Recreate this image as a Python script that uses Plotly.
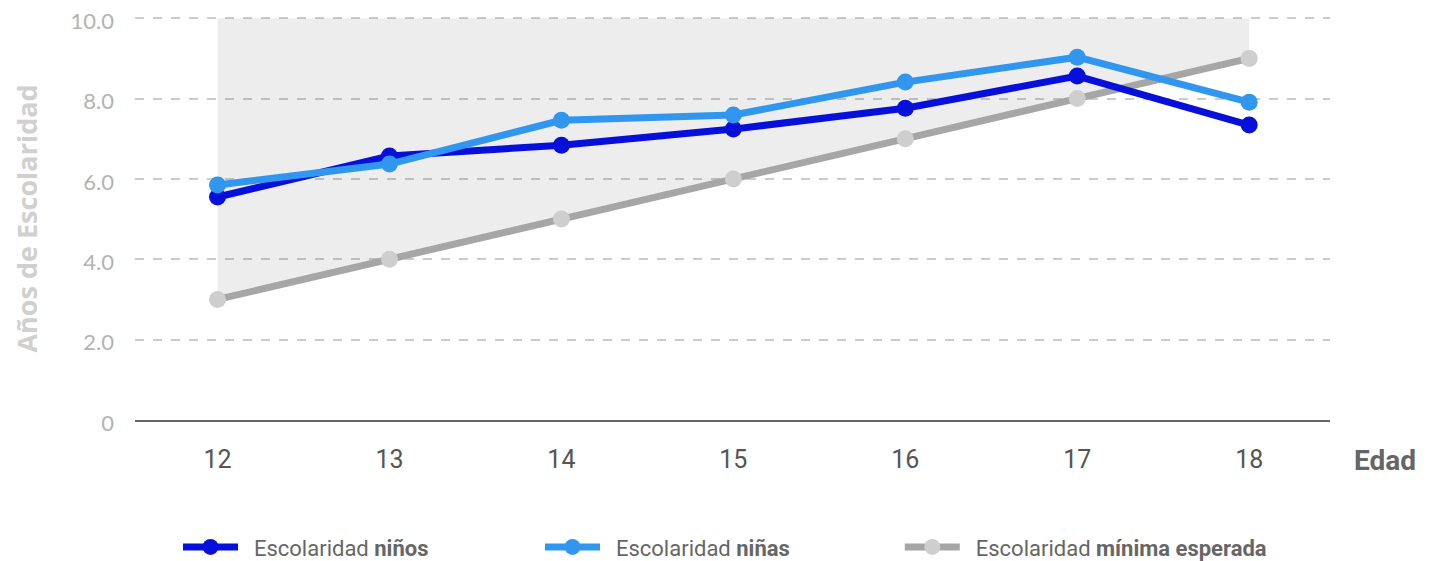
import plotly.graph_objects as go

edades = [12, 13, 14, 15, 16, 17, 18]
ninos = [5.55, 6.57, 6.84, 7.24, 7.76, 8.56, 7.34]
ninas = [5.85, 6.37, 7.46, 7.59, 8.41, 9.03, 7.91]
minima = [3, 4, 5, 6, 7, 8, 9]
techo = [10, 10, 10, 10, 10, 10, 10]
y_ticks = [0, 2, 4, 6, 8, 10]
y_labels = ["0", "2.0", "4.0", "6.0", "8.0", "10.0"]

fig = go.Figure()

# shaded band between minimum and top
fig.add_trace(go.Scatter(x=edades, y=techo, mode="lines", line=dict(width=0),
                         showlegend=False, hoverinfo="skip"))
fig.add_trace(go.Scatter(x=edades, y=minima, mode="lines", line=dict(width=0),
                         fill="tonexty", fillcolor="rgba(0,0,0,0.07)",
                         showlegend=False, hoverinfo="skip"))

sp = "&nbsp;&nbsp;"
fig.add_trace(go.Scatter(x=edades, y=minima, mode="lines+markers",
                         name=sp + "Escolaridad <b>mínima esperada</b>",
                         line=dict(color="#a6a6a6", width=7),
                         marker=dict(color="#cecece", size=17),
                         legend="legend2"))
fig.add_trace(go.Scatter(x=edades, y=ninos, mode="lines+markers",
                         name=sp + "Escolaridad <b>niños</b>",
                         line=dict(color="#0710da", width=7),
                         marker=dict(color="#0710da", size=17),
                         legendrank=1))
fig.add_trace(go.Scatter(x=edades, y=ninas, mode="lines+markers",
                         name=sp + "Escolaridad <b>niñas</b>",
                         line=dict(color="#3196ee", width=7),
                         marker=dict(color="#3196ee", size=17),
                         legendrank=2))

legend_font = dict(size=22, color="#666666", family="Roboto")

fig.update_layout(
    width=1437, height=561,
    margin=dict(l=127, r=115, t=9, b=149, autoexpand=False),
    paper_bgcolor="white", plot_bgcolor="white",
    font=dict(family="Roboto", color="#666666"),
    xaxis=dict(range=[11.52, 18.47], tickvals=edades,
               tickfont=dict(size=25, color="#555555", family="Roboto"),
               showgrid=False, zeroline=False, showline=True,
               linecolor="#666666", linewidth=2, ticks="",
               ticklabelstandoff=16, automargin=False),
    yaxis=dict(range=[0, 10.03], tickvals=y_ticks, ticktext=y_labels,
               tickfont=dict(size=22, color="#b3b3b3", family="Lato"),
               showgrid=True, gridcolor="#cccccc", griddash="dash", gridwidth=1.5,
               zeroline=False, showline=False, ticks="",
               ticklabelstandoff=20, automargin=False, ticklabeloverflow="allow",
               ticklabelshift=3,
               title=dict(text="<b>Años de Escolaridad</b>",
                          font=dict(size=27, color="#d0d0d0", family="Open Sans"),
                          standoff=34)),
    legend=dict(orientation="h", x=0.036, xanchor="left",
                yref="container", y=0.039, yanchor="middle",
                entrywidth=292, entrywidthmode="pixels", itemwidth=55,
                font=legend_font, traceorder="normal"),
    legend2=dict(orientation="h", x=0.640, xanchor="left",
                 yref="container", y=0.039, yanchor="middle",
                 itemwidth=55, font=legend_font),
    showlegend=True,
)

fig.add_annotation(text="<b>Edad</b>", xref="paper", yref="paper",
                   x=1.0, y=-0.1, xanchor="left", yanchor="middle", xshift=22,
                   showarrow=False, font=dict(size=28, color="#666666", family="Roboto"))

fig.write_html("out.html")
